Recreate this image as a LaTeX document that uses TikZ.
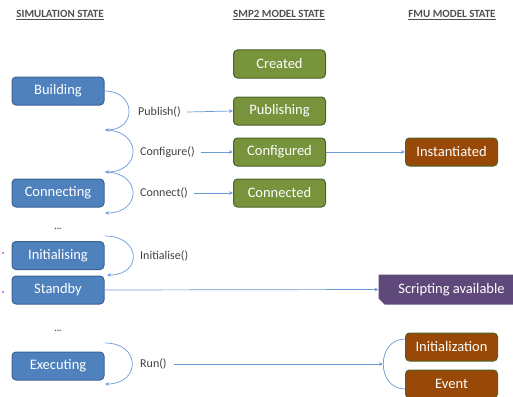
\documentclass[tikz,border=0pt]{standalone}
\usepackage{fontspec}
\setmainfont{Carlito}
\usetikzlibrary{arrows.meta,backgrounds}
\definecolor{simblue}{HTML}{4F81BD}
\definecolor{simblueborder}{HTML}{3A6396}
\definecolor{smpgreen}{HTML}{77933C}
\definecolor{smpgreenborder}{HTML}{4F6228}
\definecolor{fmubrown}{HTML}{984807}
\definecolor{fmupurple}{HTML}{5F497A}
\definecolor{lineblue}{HTML}{6B9BD6}
\definecolor{labelgray}{HTML}{404040}
\definecolor{hdrgray}{HTML}{505050}
\definecolor{markviolet}{HTML}{B060F0}
\begin{document}
\begin{tikzpicture}[x=1pt,y=-1pt,
  state/.style={rounded corners=4pt, minimum width=92pt, minimum height=28pt, inner sep=0pt,
    text=white, font=\fontsize{14.5}{16}\selectfont, line width=1pt},
  simstate/.style={state, fill=simblue, draw=simblueborder},
  smpstate/.style={state, fill=smpgreen, draw=smpgreenborder},
  fmustate/.style={state, fill=fmubrown, draw=smpgreenborder},
  lbl/.style={text=labelgray, font=\fontsize{12}{14}\selectfont, inner sep=1pt},
  hdr/.style={text=hdrgray, font=\bfseries\fontsize{11}{13}\selectfont, inner sep=1pt},
  dotsstyle/.style={text=labelgray, font=\bfseries\fontsize{9}{10}\selectfont, inner sep=0pt},
  conn/.style={draw=lineblue, line width=0.7pt},
  flow/.style={conn, -{Stealth[length=4pt,width=3.5pt]}}]
\useasboundingbox (0,0) rectangle (513,396);

% headers
\node[hdr] (h1) at (60,15) {\underline{SIMULATION STATE}};
\node[hdr] (h2) at (279,15) {\underline{SMP2 MODEL STATE}};
\node[hdr] (h3) at (452,15) {\underline{FMU MODEL STATE}};

% simulation states
\node[simstate] (building) at (58,91) {Building};
\node[simstate] (connecting) at (58,193) {Connecting};
\node[simstate] (initialising) at (58,255.5) {Initialising};
\node[simstate] (standby) at (58,290) {Standby};
\node[simstate] (executing) at (58,366) {Executing};
\node[dotsstyle] (dots1) at (58,229) {...};
\node[dotsstyle] (dots2) at (58,331) {...};
\fill[markviolet] (3,253) circle (1.1pt);
\fill[markviolet] (3,292) circle (1.1pt);

% SMP2 states
\node[smpstate] (created) at (279.5,64) {Created};
\node[smpstate] (publishing) at (279.5,111) {Publishing};
\node[smpstate] (configured) at (279.5,152) {Configured};
\node[smpstate] (connected) at (279.5,193) {Connected};

% FMU states
\node[fmustate] (instantiated) at (451.5,152) {Instantiated};
\node[state, minimum width=145pt, minimum height=29pt] (scripting) at (451.5,289.5) {Scripting available};
\begin{pgfonlayer}{background}
\fill[fmupurple] (scripting.north west) -- (scripting.north east) -- (scripting.south east)
  -- ([xshift=6pt]scripting.south west) -- ([yshift=6pt]scripting.south west) -- cycle;
\end{pgfonlayer}
\node[fmustate] (initialization) at (451.5,347) {Initialization};
\node[fmustate] (event) at (451.5,384) {Event};

% labels
\node[lbl, anchor=west] (publish) at (137,112) {Publish()};
\node[lbl, anchor=west] (configure) at (139,152) {Configure()};
\node[lbl, anchor=west] (connect) at (139,193) {Connect()};
\node[lbl, anchor=west] (initialise) at (139,256) {Initialise()};
\node[lbl, anchor=west] (run) at (139,364) {Run()};

% simulation transitions
\coordinate (b1) at (105,130);
\coordinate (b2) at (105,172);
\coordinate (b3) at (105,213);
\coordinate (i1) at (105,236);
\coordinate (i2) at (107,275);
\coordinate (r1) at (105,343);
\coordinate (r2) at (105,384);
\draw[flow] (building.east) .. controls +(32,0) and +(32,0) .. (b1);
\draw[flow] (b1) .. controls +(37,0) and +(37,0) .. (b2);
\draw[flow] (b2) .. controls +(37,0) and +(37,0) .. (b3);
\draw[flow] (i1) .. controls +(36,0) and +(36,0) .. (i2);
\draw[flow] (r1) .. controls +(36,0) and +(36,0) .. (r2);

% to model states
\draw[flow] (publish.east) ++(5,0) -- (publishing.west);
\draw[flow] (configure.east) ++(5,0) -- (configured.west);
\draw[flow] (connect.east) ++(5,0) -- (connected.west);
\draw[flow] (configured.east) -- (instantiated.west);
\draw[flow] (standby.east) -- (scripting.west);

% run bracket
\coordinate (br1) at (405,339);
\coordinate (br2) at (405,389);
\coordinate (brm) at (383,364);
\draw[conn] (br1) .. controls +(-29,0) and +(-29,0) .. (br2);
\draw[flow] (run.east) ++(6,0) -- (brm);
\end{tikzpicture}
\end{document}
